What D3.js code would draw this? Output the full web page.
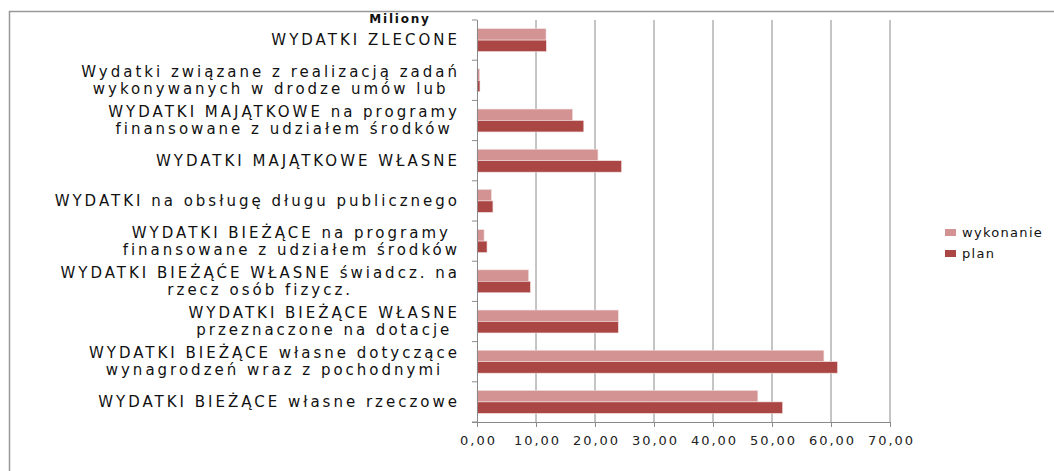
<!DOCTYPE html>
<html>
<head>
<meta charset="utf-8">
<script src="https://cdn.jsdelivr.net/npm/d3@7"></script>
<style>
  body { margin: 0; background: #fff; }
  text { font-family: "DejaVu Sans", "Open Sans", sans-serif; fill: #111; }
</style>
</head>
<body>
<div id="chart"></div>
<script>
var svgWidth = 1054;
var svgHeight = 471;

var margin = { top: 20, right: 164, bottom: 49, left: 477 };
var width = svgWidth - margin.left - margin.right;
var height = svgHeight - margin.top - margin.bottom;

// data, top to bottom
var categories = [
  ["WYDATKI ZLECONE"],
  ["Wydatki związane z realizacją zadań", "wykonywanych w drodze umów lub"],
  ["WYDATKI MAJĄTKOWE na programy", "finansowane z udziałem środków"],
  ["WYDATKI MAJĄTKOWE WŁASNE"],
  ["WYDATKI na obsługę długu publicznego"],
  ["WYDATKI BIEŻĄCE na programy", "finansowane z udziałem środków"],
  ["WYDATKI BIEŻĄĆE WŁASNE świadcz. na", "rzecz osób fizycz."],
  ["WYDATKI BIEŻĄCE WŁASNE", "przeznaczone na dotacje"],
  ["WYDATKI BIEŻĄCE własne dotyczące", "wynagrodzeń wraz z pochodnymi"],
  ["WYDATKI BIEŻĄCE  własne rzeczowe"]
];
var wykonanie = [11.7, 0.45, 16.2, 20.5, 2.45, 1.2, 8.75, 23.95, 58.8, 47.6];
var plan = [11.75, 0.5, 18.1, 24.5, 2.7, 1.7, 9.05, 23.95, 61.1, 51.8];
var seriesNames = ["wykonanie", "plan"];
var seriesColors = ["#d39392", "#aa4644"];
var xTicks = [0, 10, 20, 30, 40, 50, 60, 70];

var svg = d3.select("#chart")
  .append("svg")
  .attr("width", svgWidth)
  .attr("height", svgHeight);

// outer chart border (only top and left visible)
svg.append("path")
  .attr("d", "M9.5," + svgHeight + "V11.5H" + svgWidth)
  .attr("fill", "none")
  .attr("stroke", "#999")
  .attr("stroke-width", 1.5);

var chartGroup = svg.append("g")
  .attr("transform", `translate(${margin.left}, ${margin.top})`);

var xScale = d3.scaleLinear().domain([0, 70]).range([0, width]);
var yScale = d3.scaleBand()
  .domain(d3.range(categories.length))
  .range([0, height])
  .paddingInner(0.43)
  .paddingOuter(0.215);
var subScale = d3.scaleBand()
  .domain(seriesNames)
  .range([0, yScale.bandwidth()]);

// gridlines
chartGroup.append("g")
  .selectAll("line")
  .data(xTicks.slice(1))
  .enter()
  .append("line")
  .attr("x1", d => xScale(d))
  .attr("x2", d => xScale(d))
  .attr("y1", 0)
  .attr("y2", height)
  .attr("stroke", "#8a8a8a")
  .attr("stroke-width", 1);

// bars
var data = categories.map((c, i) => ({ i: i, values: [wykonanie[i], plan[i]] }));
var groups = chartGroup.selectAll(".cat")
  .data(data)
  .enter()
  .append("g")
  .attr("transform", d => `translate(0, ${yScale(d.i)})`);

groups.selectAll("rect")
  .data(d => d.values.map((v, k) => ({ v: v, k: k })))
  .enter()
  .append("rect")
  .attr("x", xScale(0))
  .attr("y", d => subScale(seriesNames[d.k]))
  .attr("width", d => xScale(d.v) - xScale(0))
  .attr("height", subScale.bandwidth())
  .attr("fill", d => seriesColors[d.k])
  .attr("stroke", "#f2e0e0")
  .attr("stroke-width", 0.6);

// x axis
var bottomAxis = d3.axisBottom(xScale)
  .tickValues(xTicks)
  .tickSize(5)
  .tickPadding(9)
  .tickFormat(d => d3.format(".2f")(d).replace(".", ","));

var xAxis = chartGroup.append("g")
  .attr("transform", `translate(0, ${height})`)
  .call(bottomAxis);
xAxis.select(".domain").attr("stroke", "#8a8a8a").attr("d", "M-5,0.5H" + width);
xAxis.selectAll(".tick line").attr("stroke", "#8a8a8a");
xAxis.selectAll("text")
  .attr("dx", "1px")
  .style("font-family", "DejaVu Sans")
  .style("font-size", "13px")
  .style("letter-spacing", "2px")
  .style("fill", "#222");

// y axis line and ticks between categories
chartGroup.append("line")
  .attr("x1", 0.5).attr("x2", 0.5)
  .attr("y1", 0).attr("y2", height)
  .attr("stroke", "#8a8a8a");
chartGroup.append("g")
  .selectAll("line")
  .data(d3.range(categories.length + 1))
  .enter()
  .append("line")
  .attr("x1", -5).attr("x2", 0)
  .attr("y1", d => d * height / categories.length)
  .attr("y2", d => d * height / categories.length)
  .attr("stroke", "#8a8a8a");

// category labels
var labels = chartGroup.selectAll(".catLabel")
  .data(categories)
  .enter()
  .append("text")
  .attr("text-anchor", "middle")
  .attr("x", -200)
  .attr("y", (d, i) => yScale(i) + yScale.bandwidth() / 2)
  .style("font-size", "15px")
  .style("letter-spacing", "3px");

labels.each(function(lines) {
  var t = d3.select(this);
  var n = lines.length;
  lines.forEach(function(line, j) {
    t.append("tspan")
      .attr("x", -200)
      .attr("dy", j === 0 ? ((-(n - 1) * 17) / 2 + 5) + "px" : "17px")
      .text(line);
  });
});

// right-align label blocks like Excel: each block centred then shifted to end at x=-17
labels.each(function() {
  var bb = this.getBBox();
  var shift = -17 - (bb.x + bb.width);
  d3.select(this).attr("transform", `translate(${shift}, 0)`);
});

// units label
svg.append("text")
  .attr("x", 400)
  .attr("y", 23)
  .attr("text-anchor", "middle")
  .style("font-size", "12px")
  .style("font-weight", "bold")
  .style("letter-spacing", "1.8px")
  .text("Miliony");

// legend
var legend = svg.append("g")
  .attr("transform", "translate(945, 229)");
seriesNames.forEach(function(name, k) {
  legend.append("rect")
    .attr("x", 0)
    .attr("y", k * 21)
    .attr("width", 11)
    .attr("height", 7)
    .attr("fill", seriesColors[k]);
  legend.append("text")
    .attr("x", 17)
    .attr("y", k * 21 + 8)
    .style("font-size", "13px")
    .style("letter-spacing", "1.3px")
    .text(name);
});
</script>
</body>
</html>
